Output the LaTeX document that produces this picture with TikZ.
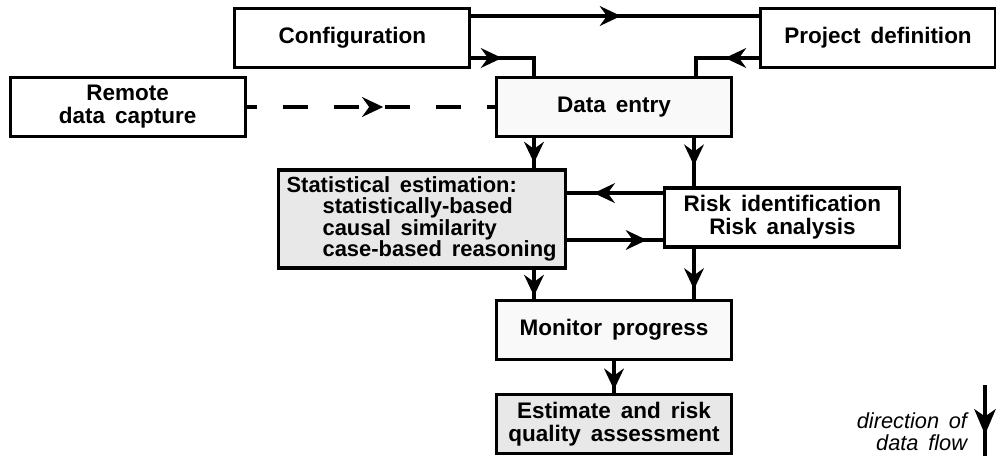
\documentclass[tikz,border=0pt]{standalone}
\usepackage{fontspec}
\setmainfont{Liberation Sans}[WordSpace=1.6]
\usetikzlibrary{positioning,arrows.meta,decorations.markings}

\begin{document}
\begin{tikzpicture}[
	box/.style={draw, line width=2.2pt, minimum width=5.875cm, minimum height=1.475cm, align=center,
		font=\bfseries\fontsize{16}{16.4}\selectfont},
	flow/.style={line width=3pt, postaction={decorate}, decoration={markings,
		mark=at position #1 with {\arrow{Stealth[length=15pt, width=14pt, inset=5pt]}}}},
	flow/.default=0.5]
	\useasboundingbox (0, 0) rectangle (24.9, -11.4);
	% boxes
	\node[box] (config) at (8.81, -0.95) {Configuration};
	\node[box] (pdef) at (21.95, -0.95) {Project definition};
	\node[box] (remote) at (3.19, -2.675) {Remote\\data capture};
	\node[box, fill=gray!5] (dentry) at (15.35, -2.675) {Data entry};
	\node[box, fill=gray!18, minimum width=7.175cm, minimum height=2.45cm, align=left,
		font=\bfseries\fontsize{15.6}{15.2}\selectfont] (stat) at (10.54, -5.475)
		{Statistical estimation:\\\hspace*{0.9cm}statistically-based\\\hspace*{0.9cm}causal similarity\\\hspace*{0.9cm}case-based reasoning};
	\node[box] (risk) at (19.56, -5.4375) {Risk identification\\Risk analysis};
	\node[box, fill=gray!5] (monitor) at (15.35, -8.25) {Monitor progress};
	\node[box, fill=gray!18, line width=2.8pt] (estimate) at (15.35, -10.6) {Estimate and risk\\quality assessment};
	% data flow
	\draw[flow=0.52] ([yshift=0.55cm]config.east) -- ([yshift=0.55cm]pdef.west);
	\draw[flow=0.38] ([yshift=-0.5cm]config.east) -| ([xshift=-2cm]dentry.north);
	\draw[flow=0.42] ([yshift=-0.5cm]pdef.west) -| ([xshift=2.05cm]dentry.north);
	\draw[flow=0.55, dash pattern=on 17.8pt off 18.5pt, dash phase=10.7pt] (remote.east) -- (dentry.west);
	\draw[flow=0.82] ([xshift=-2cm]dentry.south) -- ([xshift=-2cm]dentry.south |- stat.north);
	\draw[flow=0.57] ([xshift=2cm]dentry.south) -- ([xshift=2cm]dentry.south |- risk.north);
	\draw[flow=0.72] ([yshift=0.61cm]risk.west) -- ([yshift=0.61cm]risk.west -| stat.east);
	\draw[flow=0.83] ([yshift=-0.5625cm]risk.west -| stat.east) -- ([yshift=-0.5625cm]risk.west);
	\draw[flow=0.9] ([xshift=-2cm]monitor.north |- stat.south) -- ([xshift=-2cm]monitor.north);
	\draw[flow=0.81] ([xshift=2cm]monitor.north |- risk.south) -- ([xshift=2cm]monitor.north);
	\draw[flow=0.91] (monitor.south) -- (estimate.north);
	% legend
	\coordinate (legtop) at (24.625, -9.625);
	\coordinate (legbot) at (24.625, -11.4);
	\draw[line width=3.4pt, postaction={decorate}, decoration={markings,
		mark=at position 0.7 with {\arrow{Stealth[length=18pt, width=15pt, inset=5pt]}}}] (legtop) -- (legbot);
	\node[anchor=east, align=right, font=\itshape\fontsize{15.5}{15.5}\selectfont] (legtext) at (24.3, -10.8)
		{direction of\\data flow};
\end{tikzpicture}
\end{document}
